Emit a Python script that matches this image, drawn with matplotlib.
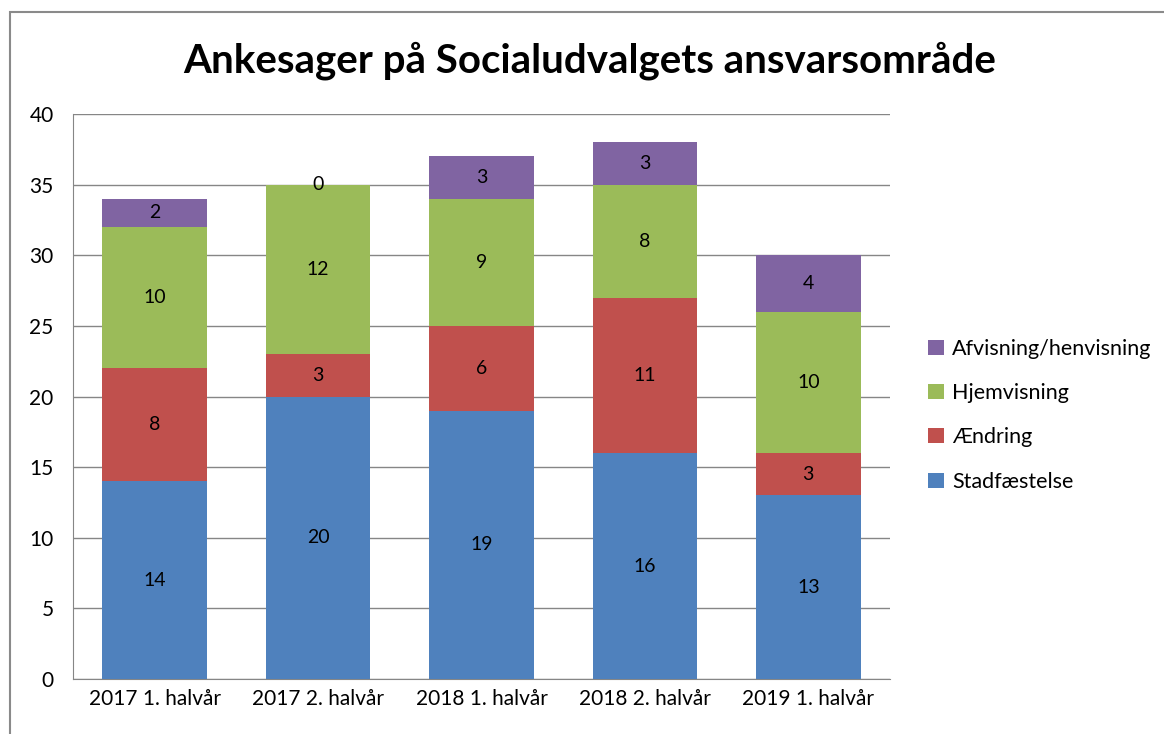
import matplotlib.pyplot as plt
from matplotlib.patches import Rectangle
import numpy as np

plt.rcParams['font.family'] = ['Lato', 'DejaVu Sans']

# Data
periods = ['2017 1. halvår', '2017 2. halvår', '2018 1. halvår', '2018 2. halvår', '2019 1. halvår']
stadfaestelse = [14, 20, 19, 16, 13]
aendring = [8, 3, 6, 11, 3]
hjemvisning = [10, 12, 9, 8, 10]
afvisning = [2, 0, 3, 3, 4]

series = [
    ('Stadfæstelse', stadfaestelse, '#4F81BD'),
    ('Ændring', aendring, '#C0504D'),
    ('Hjemvisning', hjemvisning, '#9BBB59'),
    ('Afvisning/henvisning', afvisning, '#8064A2'),
]

fig = plt.figure(figsize=(11.64, 7.34), dpi=100)
# chart border (only left and top edges visible in the crop)
fig.patches.append(Rectangle((10 / 1164, -0.5), 2, 0.5 + 1 - 12 / 734,
                             transform=fig.transFigure, fill=False,
                             edgecolor='#8a8a8a', linewidth=1.5))
ax = fig.add_axes([0.0627, 0.0749, 0.7019, 0.7698])

x = np.arange(len(periods))
bottom = np.zeros(len(periods))
handles = []
for name, vals, color in series:
    vals = np.array(vals)
    bars = ax.bar(x, vals, width=0.64, bottom=bottom, color=color, label=name, zorder=3)
    handles.append(bars)
    for xi, b, v in zip(x, bottom, vals):
        ax.text(xi, b + v / 2, str(v), ha='center', va='center', fontsize=14, zorder=4)
    bottom = bottom + vals

ax.set_xlim(-0.5, len(periods) - 0.5)
ax.set_ylim(0, 40)
ax.set_yticks(range(0, 41, 5))
ax.set_xticks(x)
ax.set_xticklabels(periods, fontsize=15)
ax.tick_params(axis='y', labelsize=15, length=0, pad=14)
ax.tick_params(axis='x', length=0, pad=7)
ax.grid(axis='y', color='#868686', linewidth=1, zorder=0)
for s in ['top', 'right']:
    ax.spines[s].set_visible(False)
ax.spines['left'].set_color('#868686')
ax.spines['bottom'].set_color('#868686')

fig.text(0.507, 0.918, 'Ankesager på Socialudvalgets ansvarsområde',
         ha='center', va='center', fontsize=29, fontweight='bold')

fig.legend(handles[::-1], [s[0] for s in series][::-1], loc='center left',
           bbox_to_anchor=(0.781, 0.434), frameon=False, fontsize=15.5,
           handlelength=0.7, handleheight=0.7, handletextpad=0.4, labelspacing=1.12)

fig.savefig('out.png', dpi=100)
